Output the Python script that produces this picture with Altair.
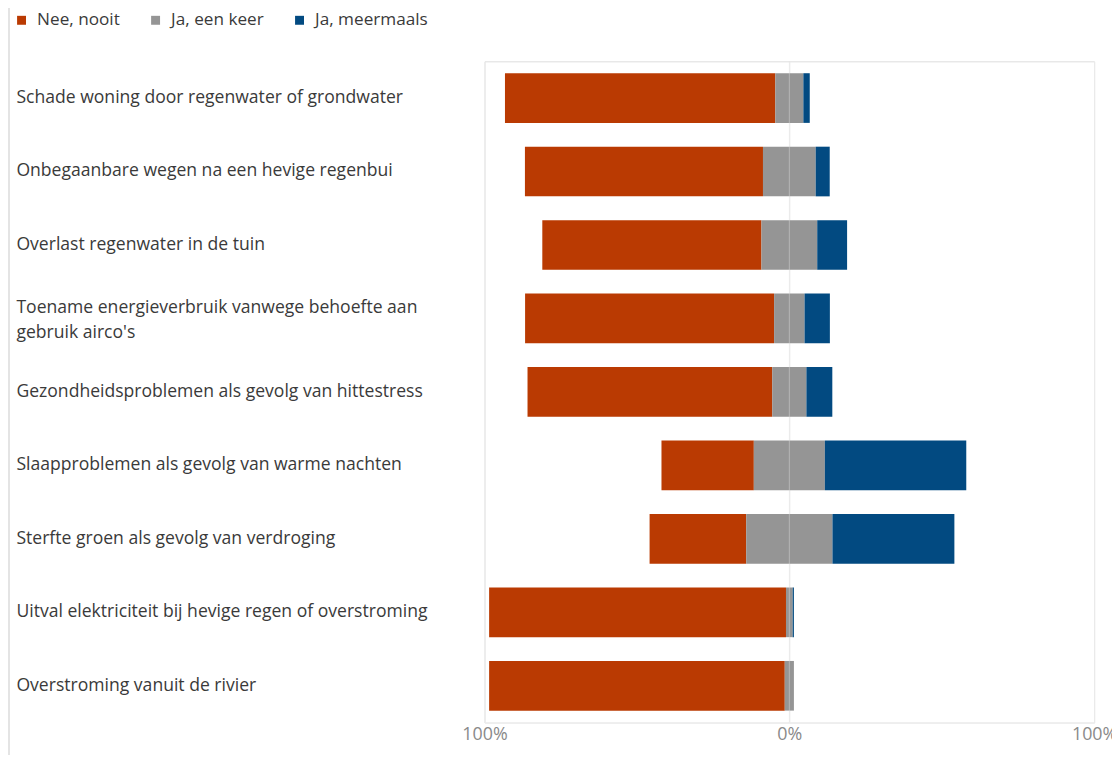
import altair as alt
import pandas as pd

categories = [
    "Schade woning door regenwater of grondwater",
    "Onbegaanbare wegen na een hevige regenbui",
    "Overlast regenwater in de tuin",
    "Toename energieverbruik vanwege behoefte aan gebruik airco's",
    "Gezondheidsproblemen als gevolg van hittestress",
    "Slaapproblemen als gevolg van warme nachten",
    "Sterfte groen als gevolg van verdroging",
    "Uitval elektriciteit bij hevige regen of overstroming",
    "Overstroming vanuit de rivier",
]
nee_nooit = [88.7, 78.1, 71.9, 81.7, 80.3, 30.3, 31.7, 97.4, 97.0]
ja_een_keer = [9.2, 17.3, 18.3, 10.0, 11.2, 23.3, 28.3, 2.2, 3.0]
ja_meermaals = [2.1, 4.6, 9.8, 8.3, 8.5, 46.4, 40.0, 0.4, 0.0]
series = ["Nee, nooit", "Ja, een keer", "Ja, meermaals"]
colors = ["#BA3A02", "#959595", "#024A81"]
tick_values = [-100, 0, 100]

rows = []
for i, c in enumerate(categories):
    half = ja_een_keer[i] / 2
    rows.append({"cat": c, "serie": series[0], "start": -(nee_nooit[i] + half), "end": -half, "order": 0})
    rows.append({"cat": c, "serie": series[1], "start": -half, "end": half, "order": 1})
    rows.append({"cat": c, "serie": series[2], "start": half, "end": half + ja_meermaals[i], "order": 2})
df = pd.DataFrame(rows)

FONT = "Open Sans"

x_scale = alt.Scale(domain=[-100, 100], nice=False)
y_scale = alt.Scale(domain=categories, paddingInner=0.324, paddingOuter=0.162)

bars = alt.Chart(df).mark_bar(cornerRadius=0).encode(
    x=alt.X("start:Q", scale=x_scale, title=None,
            axis=alt.Axis(values=tick_values, labelExpr="abs(datum.value) + '%'",
                          grid=True, gridColor="#ececec", gridWidth=1,
                          domain=True, domainColor="#efefef", ticks=False,
                          labelColor="#8a8a8a", labelFontSize=18, labelFont=FONT,
                          labelPadding=3, labelFlush=False)),
    x2="end:Q",
    y=alt.Y("cat:N", scale=y_scale, sort=categories, title=None,
            axis=alt.Axis(labelAlign="left", labelPadding=472, ticks=False, domain=False,
                          labelLimit=470, labelFontSize=17.7, labelFont=FONT,
                          labelColor="#3a3a3a", labelLineHeight=25,
                          labelOffset=alt.condition("indexof(datum.label, 'aan gebruik') >= 0",
                                                    alt.value(-10), alt.value(0)),
                          labelExpr="split(replace(datum.label, 'aan gebruik', 'aan|gebruik'), '|')")),
    color=alt.Color("serie:N", scale=alt.Scale(domain=series, range=colors), title=None,
                    legend=alt.Legend(orient="none", legendX=-475, legendY=-50, direction="horizontal",
                                      symbolType="square", symbolSize=81, symbolStrokeWidth=0,
                                      labelFont=FONT, labelFontSize=17.3, labelColor="#3a3a3a",
                                      columnPadding=27, labelOffset=7)),
    order="order:Q",
)

zero = pd.DataFrame({"v": [0]})
zero_rule = alt.Chart(zero).mark_rule(color="#dedede", opacity=0.45, strokeWidth=1).encode(
    x=alt.X("v:Q", scale=x_scale)
)

border = alt.Chart(zero).mark_rule(color="#e4e4e4", strokeWidth=2).encode(
    x=alt.value(-479), y=alt.value(-70), y2=alt.value(760)
)

chart = alt.layer(bars, zero_rule, border).properties(
    width=614, height=666,
    autosize=alt.AutoSizeParams(type="none"),
    padding={"left": 480, "top": 51, "right": 18, "bottom": 30},
).configure_view(stroke=None).configure(background="white")

chart.save("out.html", embed_options={"renderer": "svg", "actions": False})
